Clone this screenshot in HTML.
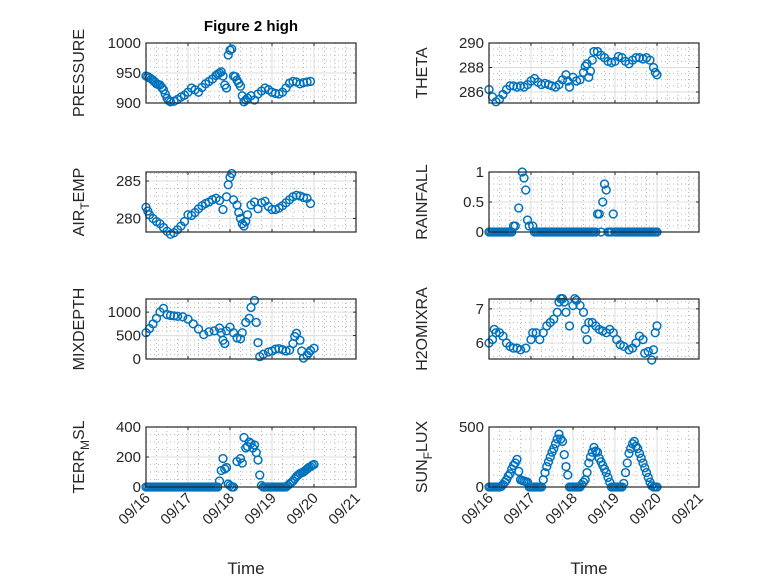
<!DOCTYPE html>
<html><head><meta charset="utf-8"><style>
html,body{margin:0;padding:0;background:#fff;}
svg{display:block;font-family:"Liberation Sans",sans-serif;}
</style></head><body>
<svg id="fig" width="778" height="583" viewBox="0 0 778 583">
<rect width="778" height="583" fill="#fff"/>
<text x="251" y="31" font-size="15" font-weight="bold" text-anchor="middle" fill="#000">Figure 2 high</text>
</svg>
<script>
// ---- data (hours since 09/16 00:00) ----
const dayLabels = ["09/16","09/17","09/18","09/19","09/20","09/21"];

const pressureT = [0,1,2,3,4,5,6,7,8,9,10,11,12,13,14,16,18,20,22,24,26,28,30,32,34,36,38,40,41,42,43,44,45,46,47,48,49,50,51,52,53,54,55,56,57,58,60,62,64,66,68,70,72,74,76,78,80,82,84,86,88,90,92,94];
const pressureV = [945,944,942,940,938,935,932,931,930,926,922,915,908,904,902,903,906,910,913,918,925,922,918,926,932,936,940,946,948,950,952,945,930,925,980,988,990,945,944,938,933,928,912,902,905,908,912,905,915,920,925,922,918,916,915,918,925,933,936,935,932,934,935,936];

const thetaT = [0,2,4,6,8,10,12,14,16,18,20,22,24,26,28,30,32,34,36,38,40,42,44,45,46,48,50,52,54,55,56,57,58,59,60,62,64,66,68,70,72,74,76,78,80,82,84,86,88,90,92,94,95,96];
const thetaV = [286.2,285.6,285.2,285.4,285.8,286.2,286.5,286.5,286.4,286.5,286.4,286.6,286.9,287.1,286.8,286.6,286.7,286.6,286.5,286.4,286.6,287.0,287.4,286.9,286.4,287.2,286.9,287.0,287.6,288.1,288.3,287.2,287.7,288.6,289.3,289.3,289.0,288.8,288.5,288.4,288.5,288.9,288.8,288.5,288.3,288.6,288.8,288.8,288.7,288.8,288.6,288.0,287.6,287.4];

const airT = [0,1,2,4,6,8,10,12,14,16,18,20,22,24,26,28,30,32,34,36,38,40,42,44,46,47,48,49,50,52,53,54,55,56,57,58,60,62,64,66,68,70,72,74,76,78,80,82,84,86,88,90,92,94];
const airV = [281.5,281,280.5,280,279.6,279.3,278.8,278.3,277.9,278.1,278.5,279,279.6,280.5,280.4,280.8,281.3,281.7,282,282.2,282.5,282.7,282.4,281.2,282.9,284.5,285.5,286,282.5,281.8,280.8,280,279.3,279,279.6,280.5,281.8,282.2,281.3,282.1,282.3,281.6,281.2,281.2,281.4,281.7,282.1,282.5,282.9,283.1,283,282.8,282.7,282];

const rainT = [0,1,2,3,4,5,6,7,8,9,10,11,12,13,14,15,17,19,20,21,22,23,25,26,27,28,29,30,31,32,33,34,35,36,37,38,39,40,41,42,43,44,45,46,47,48,49,50,51,52,53,54,55,56,57,58,59,60,61,62,63,64,65,66,67,68,69,70,71,72,73,74,75,76,77,78,79,80,81,82,83,84,85,86,87,88,89,90,91,92,93,94,95,96];
const rainV = [0,0,0,0,0,0,0,0,0,0,0,0,0,0,0.1,0.1,0.4,1.0,0.9,0.7,0.2,0.1,0.1,0,0,0,0,0,0,0,0,0,0,0,0,0,0,0,0,0,0,0,0,0,0,0,0,0,0,0,0,0,0,0,0,0,0,0,0,0.3,0.3,0,0.5,0.8,0.7,0,0,0,0.3,0,0,0,0,0,0,0,0,0,0,0,0,0,0,0,0,0,0,0,0,0,0,0,0,0];

const mixT = [0,2,4,6,8,10,12,14,16,18,21,24,27,30,33,36,39,42,43,44,45,46,48,50,52,54,55,57,59,60,62,63,64,65,67,70,72,74,76,78,80,82,84,85,86,88,89,90,92,93,94,96];
const mixV = [560,650,750,870,1000,1080,950,930,920,910,900,850,750,640,520,580,600,660,560,400,330,600,680,560,450,430,560,780,870,1100,1250,780,350,50,100,150,170,210,220,200,170,190,330,480,550,400,170,20,80,130,180,230];

const h2oT = [0,2,3,4,6,8,10,12,14,16,18,21,24,25,27,29,31,33,35,37,39,40,41,42,43,44,46,48,49,50,52,54,55,56,57,59,61,63,65,67,69,71,73,75,77,80,82,84,86,88,89,91,93,94,95,96];
const h2oV = [6.0,6.1,6.4,6.3,6.3,6.2,6.0,5.9,5.85,5.85,5.8,5.85,6.1,6.3,6.3,6.1,6.3,6.5,6.6,6.7,6.9,7.2,7.3,7.3,7.2,6.9,6.5,7.1,7.3,7.25,7.1,6.9,6.4,6.1,6.6,6.6,6.5,6.4,6.35,6.3,6.4,6.3,6.1,5.95,5.9,5.8,5.85,6.0,6.2,6.1,5.7,5.75,5.5,5.8,6.3,6.5];

const terrT = [0,1,2,3,4,5,6,7,8,9,10,11,12,13,14,15,16,17,18,19,20,21,22,23,24,25,26,27,28,29,30,31,32,33,34,35,36,37,38,39,40,41,42,43,44,45,46,47,48,49,50,52,54,55,56,57,58,59,60,61,62,63,64,65,66,67,68,69,70,71,72,73,74,75,76,77,78,79,80,81,82,83,84,85,86,87,88,89,90,91,92,93,94,95,96];
const terrV = [0,0,0,0,0,0,0,0,0,0,0,0,0,0,0,0,0,0,0,0,0,0,0,0,0,0,0,0,0,0,0,0,0,0,0,0,0,0,0,0,0,0,40,110,190,120,130,20,10,0,0,170,190,160,330,260,270,300,290,260,280,230,180,80,10,0,0,0,0,0,0,0,0,0,0,0,0,0,0,10,20,30,40,55,70,80,90,95,100,110,120,130,135,145,150];

const sunT = [0,1,2,3,4,5,6,7,8,9,10,11,12,13,14,15,16,17,18,19,20,21,22,23,24,25,26,27,28,29,30,31,32,33,34,35,36,37,38,39,40,41,42,43,44,45,46,47,48,49,50,51,52,53,54,55,56,57,58,59,60,61,62,63,64,65,66,67,68,69,70,71,72,73,74,75,76,77,78,79,80,81,82,83,84,85,86,87,88,89,90,91,92,93,94,95,96];
const sunV = [0,0,0,0,0,0,0,5,20,40,60,90,110,150,180,200,230,130,60,55,50,45,40,0,0,0,0,0,0,0,0,60,120,170,210,250,290,320,360,400,440,400,380,270,170,100,0,0,0,0,0,0,0,20,40,60,120,200,250,290,330,300,290,240,210,180,150,120,80,40,0,0,0,0,0,0,0,30,120,200,280,320,360,380,340,320,280,240,200,160,120,80,40,10,0,0,0];

// ---- layout ----
const svg = document.getElementById('fig');
const NS = 'http://www.w3.org/2000/svg';
const colX = [146, 489], axW = 210;
const rowY = [43, 172, 299, 427], axH = 60;
const panels = [
  {name:'pressure', label:['PRESSURE'], col:0,row:0, t:pressureT, v:pressureV, min:900, max:1000, ticks:[900,950,1000], tl:['900','950','1000'], minor:10},
  {name:'theta', label:['THETA'], col:1,row:0, t:thetaT, v:thetaV, min:285.1, max:290, ticks:[286,288,290], tl:['286','288','290'], minor:0.5},
  {name:'air-temp', label:['AIR','T','EMP'], col:0,row:1, t:airT, v:airV, min:278.2, max:286.2, ticks:[280,285], tl:['280','285'], minor:1},
  {name:'rainfall', label:['RAINFALL'], col:1,row:1, t:rainT, v:rainV, min:0, max:1, ticks:[0,0.5,1], tl:['0','0.5','1'], minor:0.1},
  {name:'mixdepth', label:['MIXDEPTH'], col:0,row:2, t:mixT, v:mixV, min:0, max:1280, ticks:[0,500,1000], tl:['0','500','1000'], minor:100},
  {name:'h2omixra', label:['H2OMIXRA'], col:1,row:2, t:h2oT, v:h2oV, min:5.53, max:7.29, ticks:[6,7], tl:['6','7'], minor:0.2},
  {name:'terr-msl', label:['TERR','M','SL'], col:0,row:3, t:terrT, v:terrV, min:0, max:400, ticks:[0,200,400], tl:['0','200','400'], minor:50},
  {name:'sun-flux', label:['SUN','F','LUX'], col:1,row:3, t:sunT, v:sunV, min:0, max:500, ticks:[0,500], tl:['0','500'], minor:100},
];
function mk(tag, attrs, parent){
  const e = document.createElementNS(NS, tag);
  for (const k in attrs) e.setAttribute(k, attrs[k]);
  (parent||svg).appendChild(e);
  return e;
}
panels.forEach(p => {
  const x0 = colX[p.col], y0 = rowY[p.row];
  const xs = h => x0 + h * axW / 120;
  const ys = v => y0 + axH - (v - p.min) / (p.max - p.min) * axH;
  const g = mk('g', {});
  
  
  mk('rect', {x:x0, y:y0, width:axW, height:axH, fill:'#fff'}, g);
  for (let h = 6; h < 120; h += 6) {
    if (h % 24 === 0) continue;
    mk('line', {x1:xs(h), x2:xs(h), y1:y0, y2:y0+axH, stroke:'#b8b8b8', 'stroke-width':1, 'stroke-dasharray':'1 3'}, g);
  }
  const start = Math.ceil(p.min / p.minor) * p.minor;
  for (let v = start; v <= p.max + 1e-9; v += p.minor) {
    if (p.ticks.some(t => Math.abs(t - v) < 1e-6)) continue;
    mk('line', {x1:x0, x2:x0+axW, y1:ys(v), y2:ys(v), stroke:'#b8b8b8', 'stroke-width':1, 'stroke-dasharray':'1 3'}, g);
  }
  for (let d = 1; d < 5; d++) mk('line', {x1:xs(d*24), x2:xs(d*24), y1:y0, y2:y0+axH, stroke:'#dcdcdc', 'stroke-width':1}, g);
  p.ticks.forEach((t, i) => {
    mk('line', {x1:x0, x2:x0+axW, y1:ys(t), y2:ys(t), stroke:'#dcdcdc', 'stroke-width':1}, g);
    mk('line', {x1:x0, x2:x0+3, y1:ys(t), y2:ys(t), stroke:'#262626'}, g);
    mk('line', {x1:x0+axW-3, x2:x0+axW, y1:ys(t), y2:ys(t), stroke:'#262626'}, g);
    const tx = mk('text', {x:x0-5, y:ys(t)+5, 'font-size':15, 'text-anchor':'end', fill:'#262626'}, g);
    tx.textContent = p.tl[i];
    
    
  });
  for (let d = 1; d < 5; d++) {
    mk('line', {x1:xs(d*24), x2:xs(d*24), y1:y0+axH, y2:y0+axH-3, stroke:'#262626'}, g);
    mk('line', {x1:xs(d*24), x2:xs(d*24), y1:y0, y2:y0+3, stroke:'#262626'}, g);
  }
  const dg = mk('g', {}, g);
  
  
  p.t.forEach((h, i) => {
    const c = mk('circle', {cx:xs(h), cy:ys(p.v[i]), r:3.9, fill:'none', stroke:'#0072bd', 'stroke-width':1.5}, dg);
    
    
  });
  mk('rect', {x:x0, y:y0, width:axW, height:axH, fill:'none', stroke:'#262626', 'stroke-width':1.2}, g);
  const lx = x0 - 62, ly = y0 + axH/2;
  const yl = mk('text', {x:lx, y:ly, 'font-size':16, 'text-anchor':'middle', fill:'#262626', transform:'rotate(-90 '+lx+' '+ly+')'}, g);
  
  
  if (p.label.length === 1) yl.textContent = p.label[0];
  else {
    const a = mk('tspan', {}, yl); a.textContent = p.label[0];
    const b = mk('tspan', {dy:5, 'font-size':12}, yl); b.textContent = p.label[1];
    const c = mk('tspan', {dy:-5}, yl); c.textContent = p.label[2];
  }
  if (p.row === 3) {
    dayLabels.forEach((lab, d) => {
      const tx = xs(d*24) + 5, ty = y0 + axH + 12;
      const t = mk('text', {x:tx, y:ty, 'font-size':15, 'text-anchor':'end', fill:'#262626', transform:'rotate(-45 '+tx+' '+ty+')'}, g);
      t.textContent = lab;
      
      
    });
    const xt = mk('text', {x:x0+axW/2-5, y:574, 'font-size':17, 'text-anchor':'middle', fill:'#262626'}, g);
    xt.textContent = 'Time';
    
    
  }
});
</script>
</body></html>
